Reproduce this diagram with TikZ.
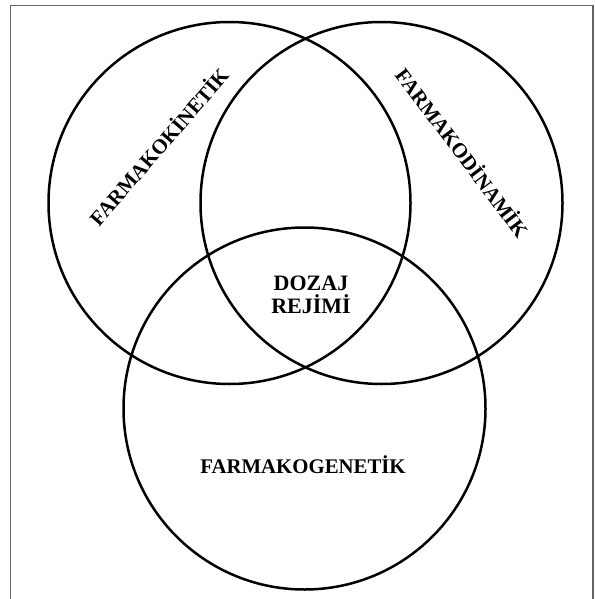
\documentclass[tikz,border=0pt]{standalone}
\usepackage{fontspec}
\setmainfont{Liberation Serif}
\begin{document}
\begin{tikzpicture}[x=1pt,y=-1pt,
  ring/.style={draw=black,line width=2.5pt},
  lbl/.style={font=\fontsize{20.8}{23}\selectfont\bfseries,inner sep=0pt,align=center}]
\useasboundingbox (0,0) rectangle (595,599);
\clip (0,0) rectangle (595,599);
\fill[white] (0,0) rectangle (595,599);
\draw[draw=black!60,line width=1.6pt] (10.5,5.5) rectangle (593,610);
\node[ring,circle,minimum size=362pt,inner sep=0pt] (c1) at (229.5,203) {};
\node[ring,circle,minimum size=362pt,inner sep=0pt] (c2) at (381.5,203) {};
\node[ring,circle,minimum size=362pt,inner sep=0pt] (c3) at (304.5,408.5) {};
\node[lbl,rotate=49] (kin) at (158,146) {FARMAKOKİNETİK};
\node[lbl,rotate=-53] (din) at (463,152) {FARMAKODİNAMİK};
\node[lbl] (gen) at (303,465) {FARMAKOGENETİK};
\node[lbl,font=\fontsize{22}{23}\selectfont\bfseries] (doz) at (311,295) {DOZAJ\\REJİMİ};
\end{tikzpicture}
\end{document}
